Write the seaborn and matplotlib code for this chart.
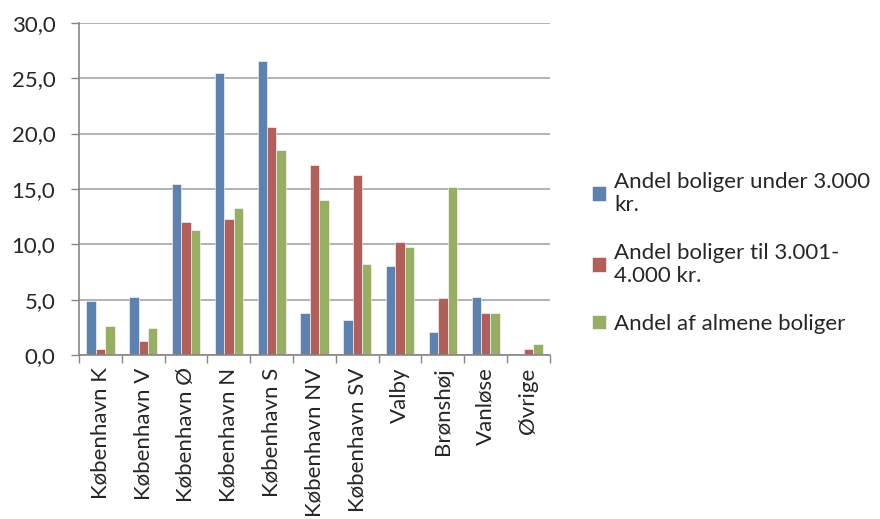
import numpy as np
import pandas as pd
import matplotlib
matplotlib.use('Agg')
import matplotlib.pyplot as plt
import seaborn as sns

# Data
bydele = ['København K', 'København V', 'København Ø', 'København N', 'København S',
          'København NV', 'København SV', 'Valby', 'Brønshøj', 'Vanløse', 'Øvrige']
under_3000 = [4.85, 5.27, 15.44, 25.46, 26.54, 3.76, 3.19, 8.0, 2.11, 5.27, 0.0]
til_4000 = [0.57, 1.26, 12.04, 12.28, 20.55, 17.18, 16.28, 10.17, 5.18, 3.76, 0.57]
almene = [2.65, 2.44, 11.31, 13.24, 18.48, 14.02, 8.22, 9.75, 15.2, 3.76, 1.02]
series_names = ['Andel boliger under 3.000\nkr.', 'Andel boliger til 3.001-\n4.000 kr.',
                'Andel af almene boliger']
colors = ['#4F81BD', '#C0504D', '#9BBB59']

df = pd.DataFrame({'Bydel': bydele, series_names[0]: under_3000,
                   series_names[1]: til_4000, series_names[2]: almene})
long_df = df.melt(id_vars='Bydel', var_name='Serie', value_name='Andel')

sns.set_style('white')
plt.rcParams['font.family'] = ['Lato', 'DejaVu Sans']

fig = plt.figure(figsize=(8.8, 5.19), dpi=100)
ax = fig.add_axes([0.0898, 0.316, 0.535, 0.640])

sns.barplot(data=long_df, x='Bydel', y='Andel', hue='Serie', palette=colors,
            width=0.66, edgecolor='white', linewidth=0.4, ax=ax, legend=True)

ax.set_ylim(0, 30)
ax.set_xlim(-0.5, len(bydele) - 0.5)
ax.set_yticks(np.arange(0, 31, 5))
ax.set_yticklabels([f'{v:.1f}'.replace('.', ',') for v in np.arange(0, 31, 5)], fontsize=16)
ax.yaxis.grid(True, color='#A6A6A6', linewidth=1.2)
ax.set_axisbelow(True)
ax.set_xlabel('')
ax.set_ylabel('')

ax.set_xticks(range(len(bydele)))
ax.set_xticklabels(bydele, rotation=90, fontsize=16)
ax.set_xticks(np.arange(-0.5, len(bydele), 1), minor=True)
ax.tick_params(axis='x', which='major', length=0, pad=9)
ax.tick_params(axis='x', which='minor', length=6, color='#868686', width=1, bottom=True)
ax.tick_params(axis='y', length=6, color='#868686', width=1, left=True, pad=11)

for side in ['top', 'right']:
    ax.spines[side].set_visible(False)
for side in ['left', 'bottom']:
    ax.spines[side].set_color('#868686')
    ax.spines[side].set_linewidth(1.2)

handles, labels = ax.get_legend_handles_labels()
ax.get_legend().remove()
fig.legend(handles, labels, loc='center left', bbox_to_anchor=(0.65, 0.513),
           frameon=False, fontsize=16, handlelength=0.65, handleheight=0.65,
           handletextpad=0.35, labelspacing=1.25)

fig.savefig('out.png', dpi=100)
